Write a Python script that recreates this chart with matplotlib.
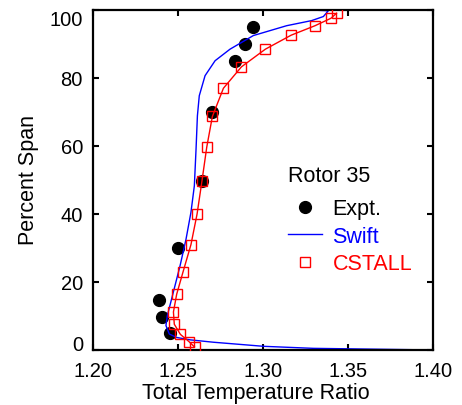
import matplotlib
matplotlib.use("Agg")
import matplotlib.pyplot as plt

# Experimental data
expt_x = [1.2945, 1.2896, 1.2837, 1.2700, 1.2641, 1.2504, 1.2392, 1.2406, 1.2455]
expt_y = [94.8, 89.9, 85.0, 69.8, 49.7, 29.8, 14.7, 9.7, 4.8]

# CSTALL
cst_x = [1.3435, 1.3402, 1.3308, 1.3167, 1.3016, 1.2875, 1.2769, 1.2704, 1.2671,
         1.2643, 1.2614, 1.2578, 1.2531, 1.2494, 1.2475, 1.2480, 1.2516, 1.2566, 1.2599]
cst_y = [99.0, 97.5, 95.3, 92.5, 88.4, 83.2, 76.9, 68.6, 59.6,
         49.7, 39.9, 30.9, 22.8, 16.3, 11.1, 7.5, 4.5, 2.4, 0.8]

# Swift
swift_x = [1.3886, 1.3298, 1.3004, 1.2710, 1.2573, 1.2494, 1.2451, 1.2431, 1.2439,
           1.2459, 1.2484, 1.2514, 1.2549, 1.2578, 1.2598, 1.2608, 1.2616, 1.2627,
           1.2661, 1.2720, 1.2808, 1.2945, 1.3141, 1.3288, 1.3357, 1.3386, 1.3240]
swift_y = [0.0, 0.4, 1.0, 2.2, 2.9, 3.6, 4.6, 7.1, 10.0,
           13.9, 18.8, 24.7, 32.5, 40.4, 48.2, 59.0, 68.8, 74.7,
           80.6, 85.0, 88.4, 92.4, 95.3, 96.8, 98.0, 99.7, 100.0]

xticks = [1.20, 1.25, 1.30, 1.35, 1.40]
yticks = [0, 20, 40, 60, 80, 100]

plt.rcParams['font.family'] = ['Liberation Sans', 'DejaVu Sans']
fig = plt.figure(figsize=(4.62, 4.06), dpi=100)
ax = fig.add_axes([0.2006, 0.1362, 0.7360, 0.8374])

ax.plot(swift_x, swift_y, color='blue', lw=1.0, label='Swift', zorder=2)
ax.plot(cst_x, cst_y, color='red', lw=1.0, zorder=3)
ax.plot(cst_x, cst_y, ls='none', marker='s', ms=6.5, mfc='none', mec='red',
        mew=1.0, label='CSTALL', zorder=4)
ax.plot(expt_x, expt_y, ls='none', marker='o', ms=8.5, color='black',
        label='Expt.', zorder=1)

ax.set_xlim(1.20, 1.40)
ax.set_ylim(0, 100)
ax.set_xticks(xticks)
ax.set_xticklabels([f"{t:.2f}" for t in xticks])
ax.set_yticks(yticks)
ax.set_yticklabels([str(t) for t in yticks])
ax.tick_params(direction='in', length=4.5, width=1.5, top=True, right=True,
               labelsize=14.5)
ax.tick_params(axis='x', pad=8)
ax.tick_params(axis='y', pad=7)
ylabs = ax.get_yticklabels()
ylabs[-1].set_va('top')
ylabs[0].set_va('baseline')
for s in ax.spines.values():
    s.set_linewidth(1.6)
ax.set_xlabel('Total Temperature Ratio', fontsize=15.5)
ax.set_ylabel('Percent Span', fontsize=15.5)
ax.xaxis.set_label_coords(0.48, -0.094)
ax.yaxis.set_label_coords(-0.158, 0.503)

h, l = ax.get_legend_handles_labels()
order = [l.index('Expt.'), l.index('Swift'), l.index('CSTALL')]
leg = ax.legend([h[i] for i in order], [l[i] for i in order], title='Rotor 35',
                frameon=False, loc='upper left', bbox_to_anchor=(0.574, 0.542),
                fontsize=15.5, title_fontsize=15.5, handlelength=1.6,
                handletextpad=0.47, labelspacing=0.3, borderpad=0,
                borderaxespad=0, alignment='left')
leg._legend_box.sep = 8.5
colors = ['black', 'blue', 'red']
for t, c in zip(leg.get_texts(), colors):
    t.set_color(c)

fig.savefig('out.png', dpi=100)
